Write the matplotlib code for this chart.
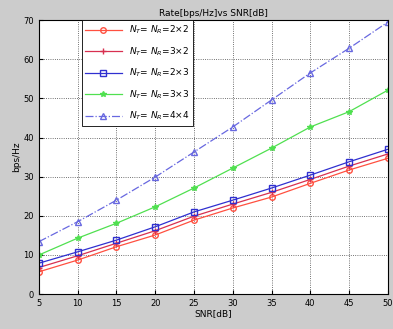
import matplotlib
matplotlib.use("Agg")
import matplotlib.pyplot as plt

snr = [5, 10, 15, 20, 25, 30, 35, 40, 45, 50]
rate_2x2 = [5.7, 8.7, 12.1, 15.1, 18.9, 22.0, 24.8, 28.3, 31.7, 34.7]
rate_3x2 = [6.8, 9.8, 13.0, 16.2, 19.9, 23.0, 26.0, 29.3, 32.7, 35.8]
rate_2x3 = [7.9, 10.8, 13.8, 17.2, 21.0, 24.0, 27.1, 30.4, 33.8, 37.0]
rate_3x3 = [10.0, 14.3, 18.1, 22.3, 27.1, 32.2, 37.3, 42.7, 46.6, 52.1]
rate_4x4 = [13.4, 18.5, 24.0, 29.9, 36.3, 42.7, 49.6, 56.5, 62.8, 69.5]

labels = ["$N_T$= $N_R$=2×2", "$N_T$= $N_R$=3×2", "$N_T$= $N_R$=2×3",
          "$N_T$= $N_R$=3×3", "$N_T$= $N_R$=4×4"]

fig = plt.figure(figsize=(3.93, 3.29), dpi=100, facecolor="#cccccc")
ax = fig.add_axes([0.099, 0.106, 0.888, 0.833])

ax.plot(snr, rate_2x2, "-o", color="#ff5040", ms=4, lw=0.9, mfc="none", label=labels[0])
ax.plot(snr, rate_3x2, "-+", color="#d83050", ms=4, lw=0.9, label=labels[1])
ax.plot(snr, rate_2x3, "-s", color="#3030d0", ms=4, lw=0.9, mfc="none", label=labels[2])
ax.plot(snr, rate_3x3, "-*", color="#50e050", ms=4, lw=0.9, label=labels[3])
ax.plot(snr, rate_4x4, "-.^", color="#6868e0", ms=4, lw=0.9, mfc="none", label=labels[4])

ax.set_xlim(5, 50)
ax.set_ylim(0, 70)
ax.set_xticks(snr)
ax.set_yticks(range(0, 71, 10))
ax.tick_params(direction="in", labelsize=6, length=3)
ax.grid(True, linestyle=":", color="#444444", linewidth=0.6)
ax.set_title("Rate[bps/Hz]vs SNR[dB]", fontsize=6.5, pad=3)
ax.set_xlabel("SNR[dB]", fontsize=6.5, labelpad=1)
ax.set_ylabel("bps/Hz", fontsize=6.5, labelpad=2)

leg = ax.legend(loc="upper left", bbox_to_anchor=(0.123, 1.0), borderaxespad=0,
                fontsize=6.5, labelspacing=1.0, handlelength=4.0, fancybox=False,
                edgecolor="black", framealpha=1)
leg.get_frame().set_linewidth(0.6)

fig.savefig("out.png", dpi=100, facecolor=fig.get_facecolor())
